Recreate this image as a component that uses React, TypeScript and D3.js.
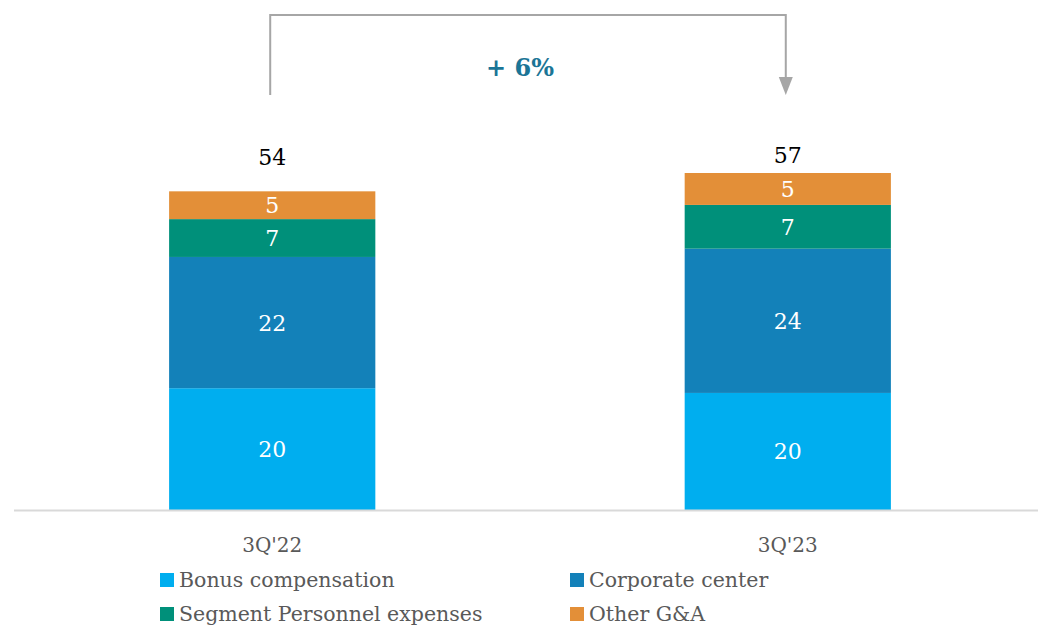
import React from "react";
import * as d3 from "d3";

const categories = ["3Q'22", "3Q'23"];
const seriesNames = ["Bonus compensation", "Corporate center", "Segment Personnel expenses", "Other G&A"];
const seriesKeys = ["bonus", "corporate", "segment", "other"];
const bonusValues = [20.6, 19.8];
const corporateValues = [22.2, 24.4];
const segmentValues = [6.4, 7.4];
const otherValues = [4.7, 5.4];
const bonusLabels = ["20", "20"];
const corporateLabels = ["22", "24"];
const segmentLabels = ["7", "7"];
const otherLabels = ["5", "5"];
const totalLabels = ["54", "57"];
const changeLabel = "+ 6%";
const colors = ["#00AEEF", "#1381B9", "#00907A", "#E38F38"];

const W = 1038;
const H = 628;
const FONT = "'Palatino Linotype', 'Book Antiqua', Palatino, 'DejaVu Serif', serif";

export default function App() {
  const rows = categories.map((c, i) => ({
    cat: c,
    bonus: bonusValues[i],
    corporate: corporateValues[i],
    segment: segmentValues[i],
    other: otherValues[i],
  }));
  const labels = [bonusLabels, corporateLabels, segmentLabels, otherLabels];
  const stack = d3.stack<any>().keys(seriesKeys)(rows);
  const x = d3.scaleBand().domain(categories).range([0, 1060]).paddingInner(0.6).paddingOuter(0.328);
  const y = d3.scaleLinear().domain([0, 57]).range([510, 173]);
  const bw = x.bandwidth();
  const c0 = (x(categories[0]) as number) + bw / 2 - 2;
  const c1 = (x(categories[1]) as number) + bw / 2 - 2;
  const arrowTop = 15;
  const arrowStart = 95;
  const arrowTip = 95;

  return (
    <svg width={W} height={H} style={{ position: "absolute", left: 0, top: 0, display: "block" }} fontFamily={FONT}>
      <rect width={W} height={H} fill="#fff" />
      {stack.map((s, si) =>
        s.map((d, i) => {
          const x0 = x(categories[i]) as number;
          const yTop = y(d[1]);
          const yBot = y(d[0]);
          return (
            <g key={`${si}-${i}`}>
              <rect x={x0} y={yTop} width={bw} height={yBot - yTop} fill={colors[si]} />
              <text
                x={x0 + bw / 2}
                y={(yTop + yBot) / 2}
                dy="0.36em"
                textAnchor="middle"
                fill="#fff"
                fontSize={22}
              >
                {labels[si][i]}
              </text>
            </g>
          );
        })
      )}
      {categories.map((c, i) => (
        <text key={c} x={(x(c) as number) + bw / 2} y={165 - i * 2} textAnchor="middle" fill="#000" fontSize={22}>
          {totalLabels[i]}
        </text>
      ))}
      <line x1={14} x2={W} y1={y(0) + 0.5} y2={y(0) + 0.5} stroke="#D9D9D9" strokeWidth={2} />
      {categories.map((c) => (
        <text key={c} x={(x(c) as number) + bw / 2} y={552} textAnchor="middle" fill="#595959" fontSize={20}>
          {c}
        </text>
      ))}
      <path
        d={`M${c0},${arrowStart} V${arrowTop} H${c1} V${arrowTip - 17}`}
        fill="none"
        stroke="#A6A6A6"
        strokeWidth={2}
      />
      <path d={`M${c1 - 7},${arrowTip - 18} L${c1 + 7},${arrowTip - 18} L${c1},${arrowTip} Z`} fill="#A6A6A6" />
      <text x={(c0 + c1) / 2 - 8} y={76} textAnchor="middle" fill="#1B7596" fontSize={24} fontWeight="bold">
        {changeLabel}
      </text>
      {seriesNames.map((n, i) => {
        const col = i % 2;
        const row = Math.floor(i / 2);
        const lx = col === 0 ? 160 : 570;
        const ly = 580 + row * 34;
        return (
          <g key={n}>
            <rect x={lx} y={ly - 7} width={14} height={14} fill={colors[i]} />
            <text x={lx + 19} y={ly} dy="0.35em" fill="#595959" fontSize={20.5}>
              {n}
            </text>
          </g>
        );
      })}
    </svg>
  );
}
